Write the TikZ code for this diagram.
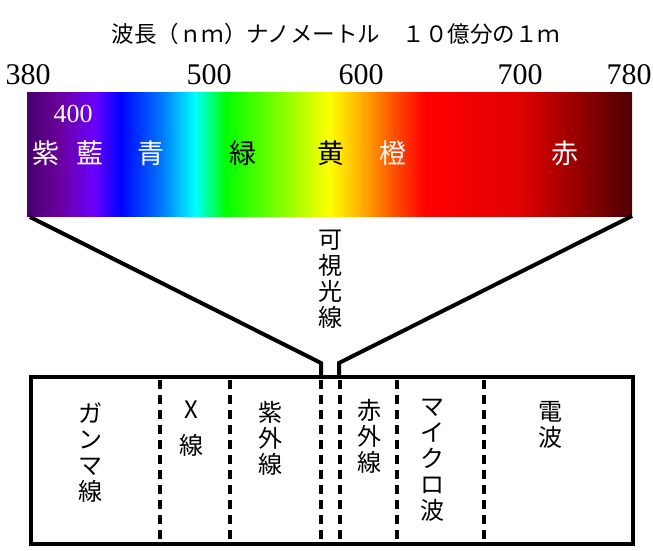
\documentclass[tikz,border=0pt]{standalone}
\usepackage{fontspec}
\setmainfont{Liberation Serif}
\newfontfamily\jp{Noto Sans CJK JP}
\definecolor{sA}{rgb}{0.28,0,0.42}
\definecolor{sB}{rgb}{0.42,0,0.62}
\definecolor{sC}{rgb}{0.42,0,1}
\definecolor{sD}{rgb}{0,0,1}
\definecolor{sE}{rgb}{0,0.45,1}
\definecolor{sF}{rgb}{0,1,1}
\definecolor{sG}{rgb}{0,1,0}
\definecolor{sH}{rgb}{0.5,1,0}
\definecolor{sI}{rgb}{1,1,0}
\definecolor{sJ}{rgb}{1,0.65,0}
\definecolor{sK}{rgb}{1,0.3,0}
\definecolor{sL}{rgb}{1,0,0}
\definecolor{sM}{rgb}{0.88,0,0}
\definecolor{sN}{rgb}{0.6,0,0}
\definecolor{sO}{rgb}{0.3,0,0.02}
\pgfdeclarehorizontalshading{spectrum}{100bp}{color(0bp)=(sA); color(25bp)=(sA); color(27.7bp)=(sB); color(30.6bp)=(sC); color(32.7bp)=(sD); color(36bp)=(sE); color(38.9bp)=(sF); color(41.4bp)=(sG); color(45.9bp)=(sH); color(50bp)=(sI); color(52.9bp)=(sJ); color(55.4bp)=(sK); color(57.9bp)=(sL); color(65.7bp)=(sM); color(70.3bp)=(sN); color(75bp)=(sO); color(100bp)=(sO)}
\begin{document}
\begin{tikzpicture}[x=1pt,y=-1pt,
  title/.style={font=\jp\fontsize{22.5}{24}\selectfont, inner sep=0},
  num/.style={font=\fontsize{30}{32}\selectfont, inner sep=0},
  clab/.style={font=\jp\fontsize{27}{28}\selectfont, inner sep=0},
  vlab/.style={font=\jp\fontsize{24}{26}\selectfont, inner sep=0, align=center, anchor=north},
  funnel/.style={line width=4pt, line join=miter},
  bandbox/.style={draw, line width=4pt, inner sep=0},
  sep/.style={line width=3.5pt, dash pattern=on 9pt off 6pt}]
\useasboundingbox (0,0) rectangle (653,551);
% title and scale
\node[title] (ttl) at (336,34) {波長（ｎｍ）ナノメートル　１０億分の１ｍ};
\node[num] (n380) at (28,75) {380};
\node[num] (n500) at (209,75) {500};
\node[num] (n600) at (361,75) {600};
\node[num] (n700) at (520,75) {700};
\node[num] (n780) at (629,75) {780};
% spectrum
\node[shade, shading=spectrum, minimum width=605pt, minimum height=124pt, inner sep=0] (spec) at (329.5,154) {};
\node[num, white, font=\fontsize{26}{28}\selectfont] (n400) at (73,114) {400};
\node[clab, white] (c1) at (46,153) {紫};
\node[clab, white] (c2) at (90,153) {藍};
\node[clab, white] (c3) at (151,153) {青};
\node[clab, black] (c4) at (243,153) {緑};
\node[clab, black] (c5) at (331,153) {黄};
\node[clab, white] (c6) at (393,153) {橙};
\node[clab, white] (c7) at (565,153) {赤};
% band box
\node[bandbox, minimum width=602pt, minimum height=167pt] (band) at (332,460.5) {};
% funnel
\coordinate (fl1) at (30,217);
\coordinate (fl2) at (321,363);
\coordinate (fl3) at (321,377);
\coordinate (fr1) at (632,216);
\coordinate (fr2) at (339,363);
\coordinate (fr3) at (339,377);
\draw[funnel] (fl1) -- (fl2) -- (fl3);
\draw[funnel] (fr1) -- (fr2) -- (fr3);
\node[vlab] (vis) at (330,230) {可\\視\\光\\線};
% separators
\foreach \x in {160,230,321,340,397,484}
  \draw[sep] (\x,380) -- (\x,542);
% band labels
\node[vlab] (gam) at (90,403) {ガ\\ン\\マ\\線};
\node[vlab] (xr) at (191,401) {X\\[10pt]線};
\node[vlab] (uv) at (270,401) {紫\\外\\線};
\node[vlab] (ir) at (369,399) {赤\\外\\線};
\node[vlab] (mw) at (432,399) {マ\\イ\\ク\\ロ\\波};
\node[vlab] (rw) at (550,401) {電\\波};
\end{tikzpicture}
\end{document}
